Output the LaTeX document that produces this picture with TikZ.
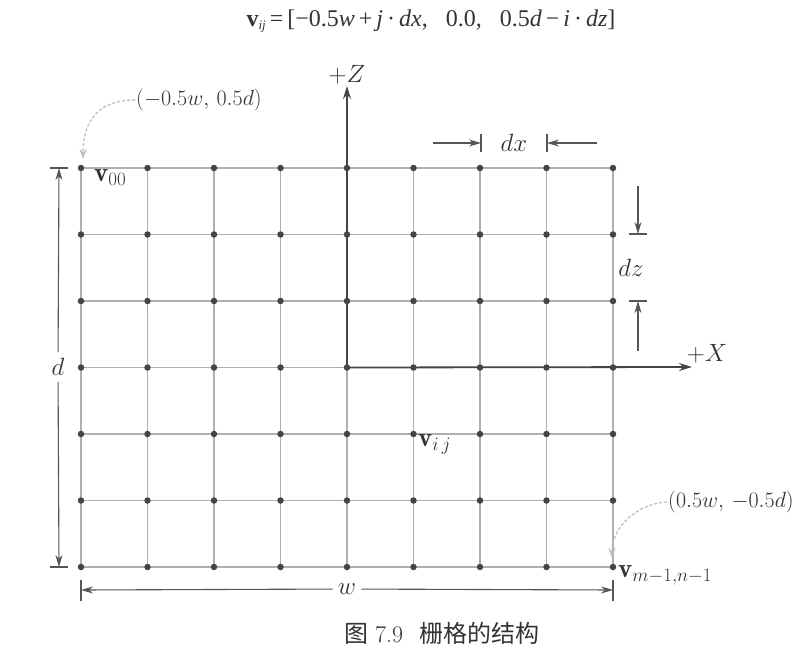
\RequirePackage{fix-cm}
\documentclass[tikz,border=0pt]{standalone}
\usepackage{fontspec}
\usepackage{amsmath}
\newfontfamily\cjk{Noto Sans CJK SC}
\newfontfamily\tms{Liberation Serif}
\usetikzlibrary{arrows.meta}
\definecolor{gridc}{HTML}{B0B0B0}
\definecolor{axisc}{HTML}{444444}
\definecolor{dimc}{HTML}{555555}
\definecolor{txtc}{HTML}{333333}
\definecolor{callc}{HTML}{BBBBBB}
\tikzset{
  dot/.style={circle,fill=axisc,inner sep=0pt,minimum size=6.5pt},
  gridline/.style={gridc,line width=1.1pt},
  axisline/.style={axisc,line width=1.8pt,-{Stealth[length=13pt,width=8pt]}},
  dimline/.style={dimc,line width=1.1pt},
  dimarrow/.style={dimc,line width=1.1pt,-{Stealth[length=12pt,width=7pt]}},
  tickline/.style={dimc,line width=1.1pt},
  callout/.style={callc,line width=1.2pt,dashed,dash pattern=on 3pt off 2pt,-{Stealth[length=10pt,width=7pt,open]}},
  lbl/.style={text=txtc,font=\fontsize{25}{28}\selectfont,inner sep=1pt},
  vlbl/.style={lbl,font=\fontsize{27}{30}\selectfont},
  clbl/.style={lbl,font=\fontsize{22}{25}\selectfont},
}
\begin{document}
\begin{tikzpicture}[x=1pt,y=-1pt]
\useasboundingbox (0,0) rectangle (807,651);
% grid points
\foreach \i in {0,...,6}{
  \foreach \j in {0,...,8}{
    \coordinate (p\i\j) at ({81+66.5*\j},{168+66.5*\i});
  }
}
% grid lines
\foreach \i in {0,1,2,4,5,6}{ \draw[gridline] (p\i0) -- (p\i8); }
\draw[gridline] (p30) -- (p34);
\foreach \j in {0,1,2,3,5,6,7,8}{ \draw[gridline] (p0\j) -- (p6\j); }
\draw[gridline] (p34) -- (p64);
% axes
\coordinate (ztip) at (347,86);
\coordinate (xtip) at (692,367);
\draw[axisline] (p34) -- (ztip);
\draw[axisline] (p34) -- (xtip);
\node[lbl,above=1pt] (zlab) at (ztip) {$+Z$};
\node[lbl] (xlab) at (707,354) {$+X$};
% dots
\foreach \i in {0,...,6}{
  \foreach \j in {0,...,8}{
    \node[dot] (g\i\j) at (p\i\j) {};
  }
}
% formula
\node[lbl,font=\fontsize{24}{26}\selectfont\tms] (formula) at (431,21)
  {\textbf{v}\raisebox{-0.35ex}{\fontsize{13}{14}\selectfont\itshape ij}\,=\,[−0.5\textit{w}\,+\,\textit{j}\,·\,\textit{dx},\enspace\ 0.0,\enspace\ 0.5\textit{d}\,−\,\textit{i}\,·\,\textit{dz}]};
% vertex labels
\node[vlbl,anchor=north west] (v00) at (93,168) {$\mathbf{v}_{00}$};
\node[vlbl,anchor=north west] (vij) at (417,433) {$\mathbf{v}_{i\,j}$};
\node[vlbl,anchor=west] (vmn) at (617,575) {$\mathbf{v}_{m-1,n-1}$};
% callouts
\node[clbl] (c1) at (199,100) {$(-0.5w,\,0.5d)$};
\node[clbl] (c2) at (731,502) {$(0.5w,\,-0.5d)$};
\coordinate (c1e) at (83,159);
\coordinate (c2e) at (612,558);
\draw[callout] (c1.west) .. controls (95,100) and (83,125) .. (c1e);
\draw[callout] (c2.west) .. controls (640,503) and (612,525) .. (c2e);
% dx
\coordinate (dxa) at (481,143);
\coordinate (dxb) at (547,143);
\draw[tickline] (481,134) -- (481,152);
\draw[tickline] (547,134) -- (547,152);
\coordinate (dxl) at (433,143);
\coordinate (dxr) at (597,143);
\draw[dimarrow] (dxl) -- (dxa);
\draw[dimarrow] (dxr) -- (dxb);
\node[lbl] (dxlab) at (514,143) {$dx$};
% dz
\coordinate (dza) at (638,234);
\coordinate (dzb) at (638,301);
\draw[tickline] (629,234) -- (647,234);
\draw[tickline] (629,301) -- (647,301);
\coordinate (dzt) at (638,186);
\coordinate (dzbb) at (638,351);
\draw[dimarrow] (dzt) -- (dza);
\draw[dimarrow] (dzbb) -- (dzb);
\node[lbl] (dzlab) at (631,268) {$dz$};
% d
\coordinate (dtop) at (59,168);
\coordinate (dbot) at (59,567);
\draw[tickline] (50,168) -- (68,168);
\draw[tickline] (50,567) -- (68,567);
\node[lbl,inner sep=6pt] (dlab) at (58,367) {$d$};
\draw[dimarrow] (dlab) -- (dtop);
\draw[dimarrow] (dlab) -- (dbot);
% w
\coordinate (wl) at (81,590);
\coordinate (wr) at (613,590);
\draw[tickline] (81,580) -- (81,601);
\draw[tickline] (613,580) -- (613,601);
\node[lbl,inner sep=5pt] (wlab) at (347,589) {$w$};
\draw[dimarrow] (wlab) -- (wl);
\draw[dimarrow] (wlab) -- (wr);
% caption
\node[lbl,anchor=west,font=\fontsize{24}{26}\selectfont] (cap) at (343,633) {{\cjk 图}\hspace{7pt}7.9\hspace{16pt}{\cjk 栅格的结构}};
\end{tikzpicture}
\end{document}
